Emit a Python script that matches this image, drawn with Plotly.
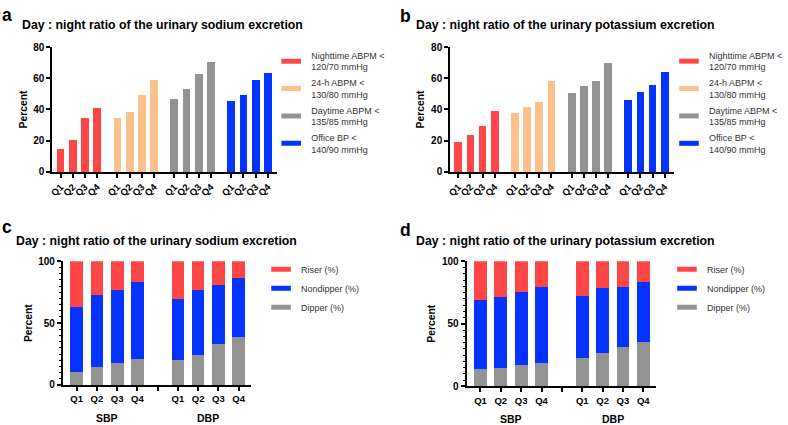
import plotly.graph_objects as go

# ---------------- data ----------------
quartiles = ["Q1", "Q2", "Q3", "Q4"]
bp_targets = ["Nighttime ABPM <<br>120/70 mmHg", "24-h ABPM <<br>130/80 mmHg",
              "Daytime ABPM <<br>135/85 mmHg", "Office BP <<br>140/90 mmHg"]

# Panel a: sodium, percent achieving target
na_night = [14.8, 20.2, 34.5, 40.7]
na_24h = [34.5, 38.5, 49.5, 59.0]
na_day = [47.0, 53.0, 62.6, 70.7]
na_office = [45.7, 49.5, 59.0, 63.2]

# Panel b: potassium
k_night = [18.9, 23.9, 29.1, 39.0]
k_24h = [37.6, 41.4, 44.7, 58.0]
k_day = [50.7, 55.1, 58.0, 69.6]
k_office = [46.4, 51.4, 55.9, 63.8]

# Panel c: sodium, dipping status (%)
groups_bp = ["SBP", "DBP"]
status_names = ["Riser (%)", "Nondipper (%)", "Dipper (%)"]
na_sbp_dipper = [10.5, 14.4, 18.1, 20.9]
na_sbp_nondipper = [52.9, 58.1, 58.9, 62.3]
na_sbp_riser = [36.6, 27.5, 23.0, 16.8]
na_dbp_dipper = [19.9, 24.6, 33.0, 39.0]
na_dbp_nondipper = [50.0, 52.4, 47.9, 47.1]
na_dbp_riser = [30.1, 23.0, 19.1, 13.9]

# Panel d: potassium, dipping status (%)
k_sbp_dipper = [14.2, 15.0, 16.8, 18.7]
k_sbp_nondipper = [54.5, 56.5, 58.8, 60.8]
k_sbp_riser = [31.3, 28.5, 24.4, 20.5]
k_dbp_dipper = [23.0, 26.7, 31.3, 35.2]
k_dbp_nondipper = [49.0, 52.1, 48.2, 48.5]
k_dbp_riser = [28.0, 21.2, 20.5, 16.3]

titles = ["Day : night ratio of the urinary sodium excretion",
          "Day : night ratio of the urinary potassium excretion",
          "Day : night ratio of the urinary sodium excretion",
          "Day : night ratio of the urinary potassium excretion"]
letters = ["a", "b", "c", "d"]

# ---------------- style ----------------
RED, PEACH, GRAY, BLUE = "#FF4646", "#FFC18C", "#939393", "#0433FF"
target_colors = [RED, PEACH, GRAY, BLUE]
status_colors = [RED, BLUE, GRAY]
FONT = "Liberation Sans, Arial, sans-serif"
W, H = 788, 425

def px(x0, x1):
    return [x0 / W, x1 / W]

def py(top, bottom):
    return [1 - bottom / H, 1 - top / H]

fig = go.Figure()

# ---- panels a, b ----
STRIDE = 4.67
for p, (series, xa, ya, leg) in enumerate([
        ([na_night, na_24h, na_day, na_office], "x", "y", "legend"),
        ([k_night, k_24h, k_day, k_office], "x2", "y2", "legend2")]):
    for g, vals in enumerate(series):
        xs = [g * STRIDE + i for i in range(len(vals))]
        fig.add_trace(go.Bar(x=xs, y=vals, marker_color=target_colors[g], width=0.64,
                             marker_line_width=0, showlegend=False, xaxis=xa, yaxis=ya))
        fig.add_trace(go.Scatter(x=[None], y=[None], mode="markers", name=bp_targets[g],
                                 marker=dict(symbol="line-ew", size=14,
                                             line=dict(width=5, color=target_colors[g])),
                                 legend=leg, legendgroup=f"{leg}{g}", xaxis=xa, yaxis=ya))

# ---- panels c, d ----
for p, (sbp, dbp, xa, ya, leg) in enumerate([
        ([na_sbp_riser, na_sbp_nondipper, na_sbp_dipper],
         [na_dbp_riser, na_dbp_nondipper, na_dbp_dipper], "x3", "y3", "legend3"),
        ([k_sbp_riser, k_sbp_nondipper, k_sbp_dipper],
         [k_dbp_riser, k_dbp_nondipper, k_dbp_dipper], "x4", "y4", "legend4")]):
    xs = [i for i in range(4)] + [i + 5 for i in range(4)]
    for s in [2, 1, 0]:  # dipper at bottom, riser on top
        fig.add_trace(go.Bar(x=xs, y=sbp[s] + dbp[s], marker_color=status_colors[s], width=0.63,
                             marker_line_width=0, showlegend=False, xaxis=xa, yaxis=ya))
    for s in range(3):
        fig.add_trace(go.Scatter(x=[None], y=[None], mode="markers", name=status_names[s],
                                 marker=dict(symbol="line-ew", size=14,
                                             line=dict(width=5, color=status_colors[s])),
                                 legend=leg, legendgroup=f"{leg}{s}", xaxis=xa, yaxis=ya))

axis_common = dict(showline=True, linecolor="black", linewidth=2, ticks="outside",
                   ticklen=4, tickwidth=1.5, tickcolor="black", showgrid=False,
                   zeroline=False, fixedrange=True)
tickfont_y = dict(family=FONT, size=10, color="black", weight="bold")
tickfont_x = dict(family=FONT, size=9.5, color="black", weight="bold")
ytitle = dict(text="Percent", font=dict(family=FONT, size=10.3, color="black", weight="bold"),
              standoff=4)

ab_ticks = [g * STRIDE + i for g in range(4) for i in range(4)]
ab_text = quartiles * 4
cd_ticks = [i for i in range(4)] + [4] + [i + 5 for i in range(4)]
cd_text = quartiles + [""] + quartiles

layout = dict(
    width=W, height=H, margin=dict(l=0, r=0, t=0, b=0),
    paper_bgcolor="white", plot_bgcolor="white", barmode="stack",
    font=dict(family=FONT, color="black"),
    xaxis=dict(domain=px(49.3, 278.3), range=[-0.67, 17.79], tickvals=ab_ticks,
               ticktext=ab_text, tickangle=-45, tickfont=tickfont_x, anchor="y", **axis_common),
    yaxis=dict(domain=py(42.3, 170.7), range=[0, 80], dtick=20, tickfont=tickfont_y,
               title=ytitle, anchor="x", **axis_common),
    xaxis2=dict(domain=px(454.3, 682.3), range=[-0.67, 17.79], tickvals=ab_ticks,
                ticktext=ab_text, tickangle=-45, tickfont=tickfont_x, anchor="y2", **axis_common),
    yaxis2=dict(domain=py(42.3, 170.7), range=[0, 80], dtick=20, tickfont=tickfont_y,
                title=ytitle, anchor="x2", **axis_common),
    xaxis3=dict(domain=px(60, 251.6), range=[-0.68, 8.62], tickvals=cd_ticks,
                ticktext=cd_text, tickangle=0, tickfont=tickfont_x, anchor="y3", **axis_common),
    yaxis3=dict(domain=py(262.7, 390), range=[0, 100], dtick=50, tickfont=tickfont_y,
                title=ytitle, anchor="x3",
                minor=dict(dtick=5, ticklen=2, tickwidth=1, ticks="outside", tickcolor="black"),
                **axis_common),
    xaxis4=dict(domain=px(471, 663.7), range=[-0.68, 8.62], tickvals=cd_ticks,
                ticktext=cd_text, tickangle=0, tickfont=tickfont_x, anchor="y4", **axis_common),
    yaxis4=dict(domain=py(262.7, 391.3), range=[0, 100], dtick=50, tickfont=tickfont_y,
                title=ytitle, anchor="x4",
                minor=dict(dtick=5, ticklen=2, tickwidth=1, ticks="outside", tickcolor="black"),
                **axis_common),
)

legfont = dict(family=FONT, size=9, color="#333333")
leg_common = dict(xanchor="left", yanchor="top", bgcolor="rgba(0,0,0,0)", borderwidth=0,
                  font=legfont, traceorder="grouped", itemclick=False, itemdoubleclick=False)
layout["legend"] = dict(x=(312 - 40) / W, y=1 - 38 / H, tracegroupgap=1, **leg_common)
layout["legend2"] = dict(x=(717 - 40) / W, y=1 - 38 / H, tracegroupgap=1, **leg_common)
layout["legend3"] = dict(x=(301.7 - 40) / W, y=1 - 256 / H, tracegroupgap=0, **leg_common)
layout["legend4"] = dict(x=(715 - 40) / W, y=1 - 256 / H, tracegroupgap=0, **leg_common)

fig.update_layout(**layout)

# titles and panel letters
title_pos = [(16.5, 20), (417.3, 20), (10.5, 242), (417.3, 242)]
letter_pos = [(-4, 9), (401, 10), (-4, 227), (401, 230)]
for k in range(4):
    fig.add_annotation(text=titles[k], xref="paper", yref="paper", x=title_pos[k][0] / W,
                       y=1 - title_pos[k][1] / H, xanchor="left", yanchor="middle",
                       showarrow=False,
                       font=dict(family=FONT, size=12.3, color="black", weight="bold"))
    fig.add_annotation(text=letters[k], xref="paper", yref="paper", x=letter_pos[k][0] / W,
                       y=1 - letter_pos[k][1] / H, xanchor="left", yanchor="middle",
                       showarrow=False,
                       font=dict(family=FONT, size=17.5, color="black", weight="bold"))

# group labels under panels c, d
for xa, ya in [("x3", "y3"), ("x4", "y4")]:
    for gi, gname in enumerate(groups_bp):
        centers = [i + 5 * gi for i in range(4)]
        fig.add_annotation(text=gname, xref=xa, yref=f"{ya} domain",
                           x=sum(centers) / len(centers), y=0, yshift=-33,
                           yanchor="middle", showarrow=False,
                           font=dict(family=FONT, size=10.5, color="black", weight="bold"))

fig.write_html("out.html", config={"displayModeBar": False},
               post_script="document.body.style.margin='0';document.body.style.overflow='hidden';")
